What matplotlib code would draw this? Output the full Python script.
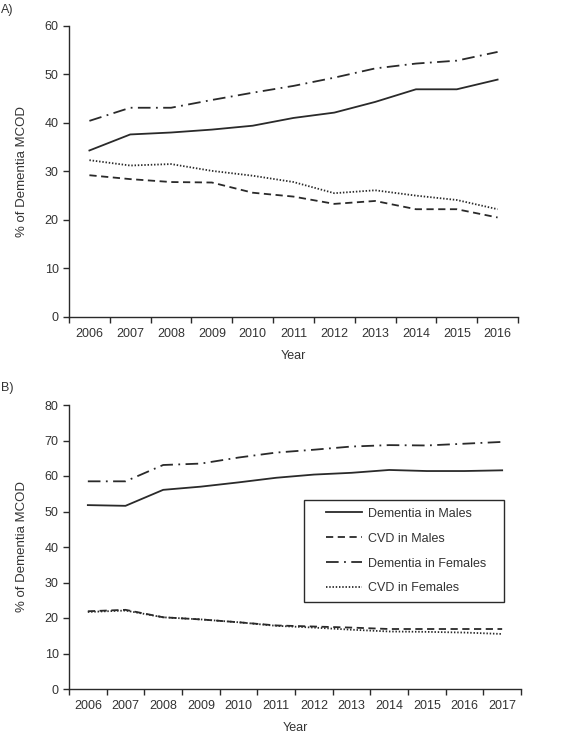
import numpy as np
import matplotlib.pyplot as plt
from matplotlib.patches import Rectangle

plt.rcParams['font.family'] = ['Liberation Sans', 'DejaVu Sans']

# Panel A data
years_a = [2006, 2007, 2008, 2009, 2010, 2011, 2012, 2013, 2014, 2015, 2016]
dem_males_a = [34.3, 37.6, 38.0, 38.6, 39.4, 41.0, 42.1, 44.3, 46.9, 46.9, 48.9]
cvd_males_a = [29.2, 28.4, 27.8, 27.7, 25.6, 24.8, 23.3, 23.9, 22.2, 22.2, 20.5]
dem_females_a = [40.4, 43.1, 43.1, 44.7, 46.2, 47.6, 49.3, 51.2, 52.2, 52.8, 54.6]
cvd_females_a = [32.3, 31.2, 31.5, 30.1, 29.1, 27.8, 25.5, 26.1, 25.0, 24.1, 22.2]

# Panel B data
years_b = [2006, 2007, 2008, 2009, 2010, 2011, 2012, 2013, 2014, 2015, 2016, 2017]
dem_males_b = [51.8, 51.6, 56.1, 57.0, 58.2, 59.5, 60.4, 60.9, 61.7, 61.4, 61.4, 61.6]
cvd_males_b = [21.9, 22.3, 20.2, 19.6, 18.8, 17.9, 17.6, 17.3, 16.9, 16.9, 16.9, 16.9]
dem_females_b = [58.5, 58.5, 63.1, 63.5, 65.2, 66.6, 67.4, 68.3, 68.7, 68.6, 69.1, 69.6]
cvd_females_b = [21.7, 22.1, 20.2, 19.6, 18.8, 17.8, 17.3, 16.7, 16.2, 16.1, 15.9, 15.5]

labels = ["Dementia in Males", "CVD in Males", "Dementia in Females", "CVD in Females"]

line_col = "#2a2a2a"
text_col = "#333333"
styles = ["-", (0, (4, 2.5)), (0, (7, 3, 1, 3)), (0, (0.8, 1))]


def draw_panel(ax, years, series, ymax, ystep):
    n = len(years)
    x = np.arange(n)
    for vals, ls in zip(series, styles):
        ax.plot(x, vals, color=line_col, lw=1.3, linestyle=ls)
    ax.set_xlim(-0.5, n - 0.5)
    ax.set_ylim(0, ymax)
    ax.set_yticks(np.arange(0, ymax + 1, ystep))
    ax.set_xticks(x)
    ax.set_xticklabels([str(y) for y in years])
    ax.set_xticks(np.arange(n + 1) - 0.5, minor=True)
    ax.tick_params(axis='x', which='major', length=0, pad=8, labelsize=9, colors=text_col)
    ax.tick_params(axis='x', which='minor', length=4, width=1, color=line_col)
    ax.tick_params(axis='y', length=4, width=1, labelsize=9, colors=text_col, color=line_col)
    for s in ['top', 'right']:
        ax.spines[s].set_visible(False)
    for s in ['left', 'bottom']:
        ax.spines[s].set_color(line_col)
        ax.spines[s].set_linewidth(1)
    ax.set_xlabel("Year", fontsize=9, color=text_col, labelpad=7)
    ax.set_ylabel("% of Dementia MCOD", fontsize=9.5, color=text_col, labelpad=12)


fig = plt.figure(figsize=(5.68, 7.36), dpi=100)

ax1 = fig.add_axes([69 / 568, 1 - 317 / 736, 449 / 568, (317 - 25.7) / 736])
draw_panel(ax1, years_a, [dem_males_a, cvd_males_a, dem_females_a, cvd_females_a], 60, 10)

ax2 = fig.add_axes([69 / 568, 1 - 689 / 736, 452 / 568, (689 - 405) / 736])
draw_panel(ax2, years_b, [dem_males_b, cvd_males_b, dem_females_b, cvd_females_b], 80, 10)

# legend box
bx0, by0, bw, bh = 0.52, 0.306, 0.442, 0.359
ax2.add_patch(Rectangle((bx0, by0), bw, bh, transform=ax2.transAxes, fill=True,
                        facecolor='white', edgecolor=line_col, lw=1, zorder=3))
handles = ax2.get_lines()
leg = ax2.legend(handles, labels, loc='center', bbox_to_anchor=(bx0 + bw / 2 + 0.004, by0 + bh / 2),
                 fontsize=9, frameon=False, handlelength=2.9, borderpad=0,
                 labelspacing=1.03, handletextpad=0.45)
leg.set_zorder(4)
for t in leg.get_texts():
    t.set_color(text_col)

fig.text(0.002, 1 - 10 / 736, "A)", fontsize=9, color=text_col, va='center')
fig.text(0.002, 1 - 388 / 736, "B)", fontsize=9, color=text_col, va='center')

fig.savefig("out.png", dpi=100)
